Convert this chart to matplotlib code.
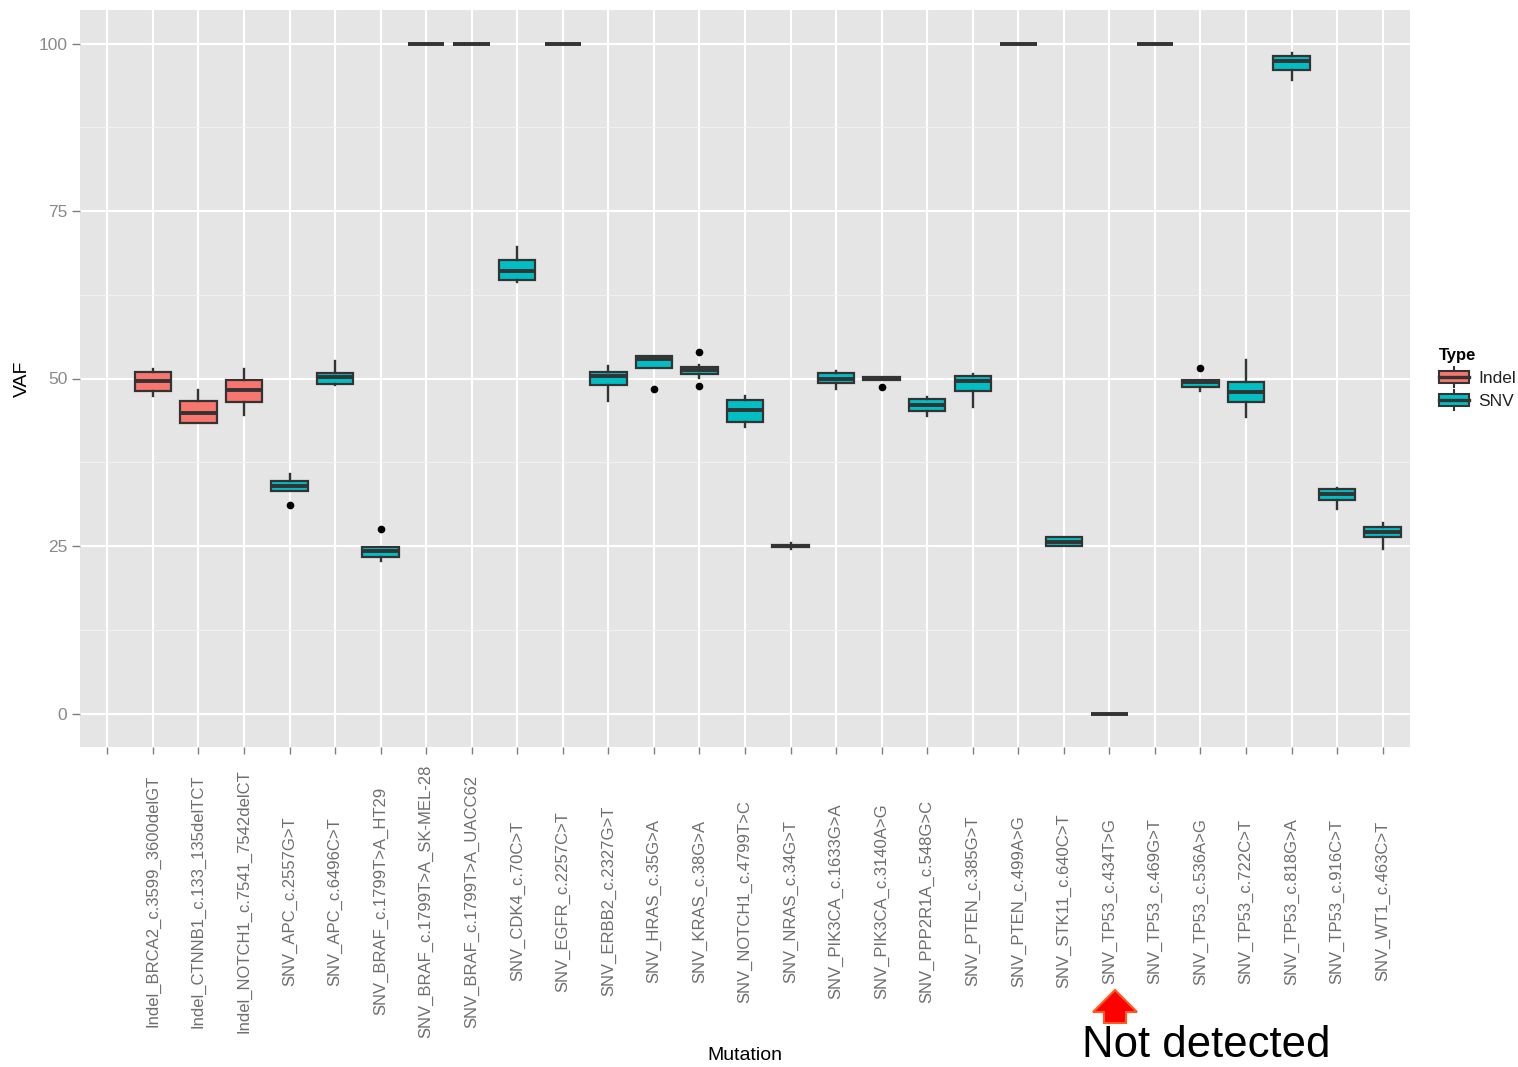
import matplotlib
matplotlib.use("Agg")
import matplotlib.pyplot as plt
from matplotlib.patches import Patch, Rectangle, FancyArrow
from matplotlib.lines import Line2D
from matplotlib.legend_handler import HandlerBase

plt.rcParams['font.family'] = ['Liberation Sans', 'DejaVu Sans']

# categories (first one is an empty level with no data)
mutations = ["", "Indel_BRCA2_c.3599_3600delGT", "Indel_CTNNB1_c.133_135delTCT",
             "Indel_NOTCH1_c.7541_7542delCT", "SNV_APC_c.2557G>T", "SNV_APC_c.6496C>T",
             "SNV_BRAF_c.1799T>A_HT29", "SNV_BRAF_c.1799T>A_SK-MEL-28", "SNV_BRAF_c.1799T>A_UACC62",
             "SNV_CDK4_c.70C>T", "SNV_EGFR_c.2257C>T", "SNV_ERBB2_c.2327G>T", "SNV_HRAS_c.35G>A",
             "SNV_KRAS_c.38G>A", "SNV_NOTCH1_c.4799T>C", "SNV_NRAS_c.34G>T", "SNV_PIK3CA_c.1633G>A",
             "SNV_PIK3CA_c.3140A>G", "SNV_PPP2R1A_c.548G>C", "SNV_PTEN_c.385G>T", "SNV_PTEN_c.499A>G",
             "SNV_STK11_c.640C>T", "SNV_TP53_c.434T>G", "SNV_TP53_c.469G>T", "SNV_TP53_c.536A>G",
             "SNV_TP53_c.722C>T", "SNV_TP53_c.818G>A", "SNV_TP53_c.916C>T", "SNV_WT1_c.463C>T"]
types = [None, "Indel", "Indel", "Indel"] + ["SNV"] * 25

whislo = [None, 47.4, 43.4, 44.5, 33.2, 49.1, 22.8, 100, 100, 64.4, 100, 46.6, 51.6, 50.1, 42.7,
          24.5, 48.4, 49.8, 44.4, 45.7, 100, 25.0, 0, 100, 48.1, 44.3, 94.5, 30.5, 24.5]
q1 = [None, 48.2, 43.4, 46.5, 33.2, 49.25, 23.4, 100, 100, 64.65, 100, 49.1, 51.6, 50.7, 43.55,
      24.9, 49.4, 49.8, 45.1, 48.1, 100, 25.0, 0, 100, 48.7, 46.5, 96.1, 31.9, 26.3]
median = [None, 49.6, 44.9, 48.3, 33.9, 50.2, 24.3, 100, 100, 66.1, 100, 50.3, 52.85, 51.25, 45.3,
          25.0, 50.0, 50.0, 46.1, 49.6, 100, 25.67, 0, 100, 49.5, 47.96, 97.4, 32.8, 27.06]
q3 = [None, 51.0, 46.7, 49.85, 34.7, 50.8, 24.9, 100, 100, 67.7, 100, 50.97, 53.3, 51.65, 46.8,
      25.1, 50.8, 50.2, 47.0, 50.35, 100, 26.3, 0, 100, 49.8, 49.45, 98.1, 33.5, 27.8]
whishi = [None, 51.4, 48.3, 51.4, 35.7, 52.6, 24.9, 100, 100, 69.7, 100, 51.9, 53.4, 52.0, 47.4,
          25.5, 51.1, 50.2, 47.2, 50.6, 100, 26.3, 0, 100, 49.8, 52.8, 98.6, 33.7, 28.5]
outliers = [[], [], [], [], [31.1], [], [27.6], [], [], [], [], [], [48.5], [54.0, 48.9], [],
            [], [], [48.8], [], [], [], [], [], [], [51.6], [], [], [], []]

type_colors = {"Indel": "#F8766D", "SNV": "#00BFC4"}
edge = "#333333"

fig = plt.figure(figsize=(15.18, 10.67), dpi=100)
ax = fig.add_axes([80 / 1518, 1 - 747 / 1067, 1330 / 1518, 737 / 1067])
ax.set_facecolor("#E5E5E5")
for s in ax.spines.values():
    s.set_visible(False)

positions = list(range(1, len(mutations) + 1))
stats, pos, fills = [], [], []
for i in range(len(mutations)):
    if median[i] is None:
        continue
    stats.append(dict(med=median[i], q1=q1[i], q3=q3[i], whislo=whislo[i],
                      whishi=whishi[i], fliers=outliers[i]))
    pos.append(positions[i])
    fills.append(type_colors[types[i]])

bp = ax.bxp(stats, positions=pos, widths=0.8, patch_artist=True, showcaps=False,
            boxprops=dict(edgecolor=edge, linewidth=1.6),
            medianprops=dict(color=edge, linewidth=2.8, solid_capstyle='butt'),
            whiskerprops=dict(color=edge, linewidth=1.7),
            flierprops=dict(marker='o', markerfacecolor='black', markeredgecolor='black',
                            markersize=4.5), zorder=3)
for patch, c in zip(bp['boxes'], fills):
    patch.set_facecolor(c)

ax.set_xlim(0.4, len(mutations) + 0.6)
ax.set_ylim(-5, 105)
ax.set_xticks(positions)
ax.set_xticklabels(mutations, rotation=90, fontsize=12, color="#6E6E6E")
for lab in ax.get_xticklabels():
    lab.set_verticalalignment('center')
ax.set_yticks([0, 25, 50, 75, 100])
ax.set_yticks([12.5, 37.5, 62.5, 87.5], minor=True)
ax.tick_params(axis='x', length=5, width=1, color="#7F7F7F", pad=106)
ax.tick_params(axis='y', length=6, width=1, color="#7F7F7F", labelsize=12.5,
               labelcolor="#8A8A8A", pad=3)
ax.tick_params(axis='y', which='minor', length=0)
ax.grid(True, which='major', color='white', linewidth=1.5, zorder=0)
ax.grid(True, which='minor', axis='y', color='#F2F2F2', linewidth=0.7, zorder=0)
ax.set_axisbelow(True)

ax.set_ylabel("VAF", fontsize=14, color="black")
ax.yaxis.set_label_coords(-0.037, 0.5)
ax.set_xlabel("Mutation", fontsize=14, color="black", va='center')
ax.xaxis.set_label_coords(0.5, -0.418)


class BoxHandler(HandlerBase):
    def create_artists(self, legend, orig_handle, xdescent, ydescent, width, height,
                       fontsize, trans):
        x0, y0 = -xdescent, -ydescent
        wh = Line2D([x0 + width / 2] * 2, [y0 - height * 0.25, y0 + height * 1.25],
                    color=edge, lw=1.5, transform=trans)
        box = Rectangle((x0, y0 + height * 0.05), width, height * 0.9,
                        facecolor=orig_handle.get_facecolor(), edgecolor=edge, lw=1.5,
                        transform=trans)
        med = Line2D([x0, x0 + width], [y0 + height / 2] * 2, color=edge, lw=2.4,
                     transform=trans)
        return [wh, box, med]


handles = [Patch(facecolor=type_colors[t], label=t) for t in ["Indel", "SNV"]]
leg = fig.legend(handles=handles, title="Type", loc='upper left',
                 bbox_to_anchor=(1427 / 1518, 1 - 336 / 1067), frameon=False,
                 fontsize=12.5, title_fontsize=12, handlelength=1.7, handleheight=0.85,
                 handletextpad=0.55, labelspacing=0.4, borderpad=0.2,
                 handler_map={Patch: BoxHandler()})
leg.get_title().set_fontweight('bold')
leg._legend_box.align = "left"
for t in leg.get_texts():
    t.set_color("#222222")

# annotation for the undetected mutation
arrow = FancyArrow(1115 / 1518, 1 - 1023 / 1067, 0, (1023 - 990) / 1067,
                   width=22 / 1518, head_width=44 / 1518, head_length=22 / 1067,
                   length_includes_head=True, transform=fig.transFigure,
                   facecolor='#FF0000', edgecolor='#FF5A1F', linewidth=1.5)
fig.patches.append(arrow)
fig.text(1206 / 1518, 1 - 1057 / 1067, "Not detected", fontsize=31.5, color='black',
         ha='center', va='baseline')

fig.savefig("out.png", dpi=100)
